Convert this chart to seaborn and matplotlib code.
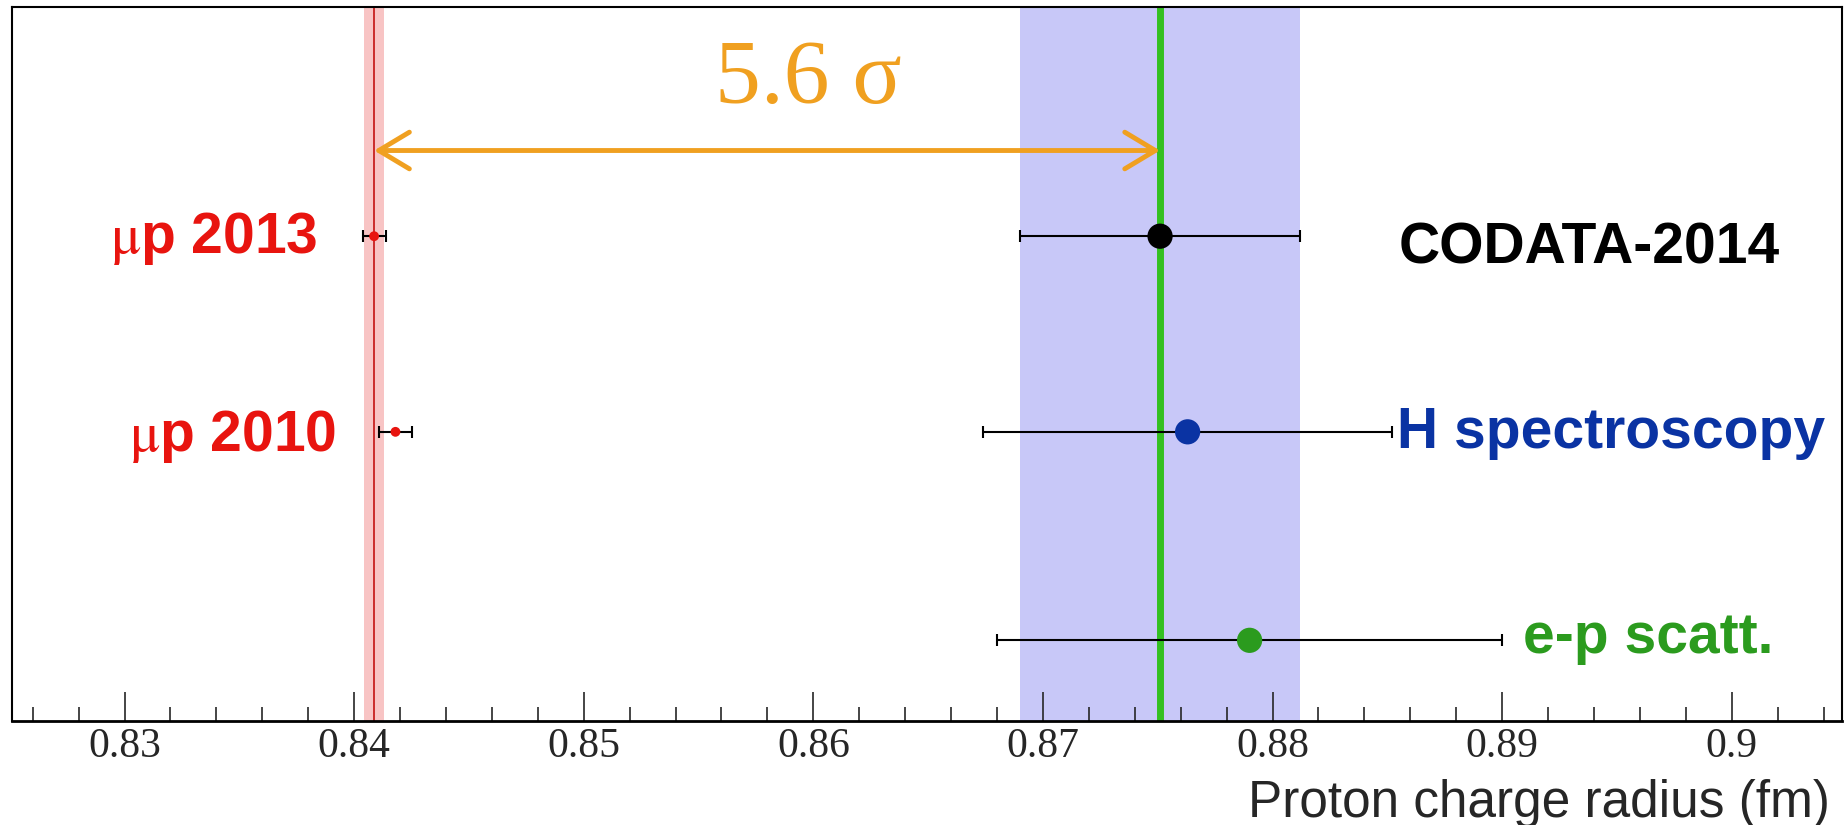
import numpy as np
import pandas as pd
import seaborn as sns
import matplotlib
matplotlib.use('Agg')
import matplotlib.pyplot as plt
from matplotlib.ticker import MultipleLocator

# measurements (fm)
labels = ['μp 2013', 'μp 2010', 'CODATA-2014', 'H spectroscopy', 'e-p scatt.']
radius = [0.84087, 0.8418, 0.8751, 0.8763, 0.8790]
radius_err = [0.0005, 0.0007, 0.0061, 0.0089, 0.0110]
row = [2, 1, 2, 1, 0]
colors = ['#e8140f', '#e8140f', '#000000', '#0a33a3', '#2b9b1e']

muon_radius = 0.84087
muon_band = 0.00045
codata_radius = 0.8751
codata_band = 0.0061
sigma_label = '5.6 σ'

x_ticks = [0.83, 0.84, 0.85, 0.86, 0.87, 0.88, 0.89, 0.9]
x_tick_labels = ['0.83', '0.84', '0.85', '0.86', '0.87', '0.88', '0.89', '0.9']
x_label = 'Proton charge radius (fm)'

# layout
row_y = {0: 0.113, 1: 0.405, 2: 0.679}
label_x = {'μp 2013': 0.8384, 'μp 2010': 0.8392, 'CODATA-2014': 0.8855,
           'H spectroscopy': 0.8854, 'e-p scatt.': 0.8909}
label_base = {'μp 2013': 0.656, 'μp 2010': 0.378, 'CODATA-2014': 0.641,
              'H spectroscopy': 0.383, 'e-p scatt.': 0.095}
marker_size = [50, 50, 330, 330, 330]

df = pd.DataFrame({'label': labels, 'radius': radius, 'err': radius_err,
                   'y': [row_y[r] for r in row], 'size': marker_size})

sns.set_style('white')
plt.rcParams['font.family'] = ['Liberation Sans', 'DejaVu Sans']
plt.rcParams['mathtext.fontset'] = 'stix'

fig = plt.figure(figsize=(18.46, 8.25), dpi=100)
ax = fig.add_axes([12 / 1846, 1 - 721 / 825, (1842 - 12) / 1846, (721 - 7) / 825])

# bands
ax.axvspan(codata_radius - codata_band, codata_radius + codata_band, color='#c8c8f8', lw=0, zorder=0)
ax.axvline(codata_radius, color='#33c020', lw=5, zorder=1)
ax.axvspan(muon_radius - muon_band, muon_radius + muon_band, color='#f8c4c4', lw=0, zorder=0)
ax.axvline(muon_radius, color='#c82020', lw=1.3, zorder=1)

# error bars + points
ax.errorbar(df['radius'], df['y'], xerr=df['err'], fmt='none', ecolor='black',
            elinewidth=1.5, capsize=4, capthick=1.5, zorder=2)
sns.scatterplot(data=df, x='radius', y='y', hue='label', palette=dict(zip(labels, colors)),
                size='label', sizes=dict(zip(labels, marker_size)), legend=False,
                edgecolor='none', ax=ax, zorder=3)

# labels
for lab, c in zip(labels, colors):
    if lab.startswith('μp'):
        txt = r'$\mathrm{\mu}$' + lab[1:]
        ax.text(label_x[lab], label_base[lab], txt, color=c, fontsize=41, fontweight='bold',
                ha='right', va='baseline')
    else:
        ax.text(label_x[lab], label_base[lab], lab, color=c, fontsize=41, fontweight='bold',
                ha='left', va='baseline')

# sigma arrow
ax.annotate('', xy=(codata_radius, 0.799), xytext=(muon_radius, 0.799),
            arrowprops=dict(arrowstyle='<->,head_length=1.0,head_width=0.6',
                            color='#f0a020', lw=3.5, mutation_scale=22,
                            shrinkA=0, shrinkB=0), zorder=4)
ax.text(0.8598, 0.866, sigma_label, color='#f0a020', fontsize=66,
        family='Liberation Serif', ha='center', va='baseline')

ax.set_xlim(0.8251, 0.9048)
ax.set_ylim(0, 1)
ax.set_yticks([])
ax.set_xticks(x_ticks)
ax.set_xticklabels(x_tick_labels, family='Liberation Serif', fontsize=30)
ax.xaxis.set_minor_locator(MultipleLocator(0.002))
ax.tick_params(axis='x', which='major', direction='in', length=21, width=1.2,
               pad=5, bottom=True, top=False)
ax.tick_params(axis='x', which='minor', direction='in', length=10, width=1.2,
               bottom=True, top=False)
ax.set_xlabel('')
ax.set_ylabel('')
for s in ax.spines.values():
    s.set_color('black')
    s.set_linewidth(1.5)
ax.spines['bottom'].set_linewidth(2)

fig.text(1830 / 1846, 1 - 804 / 825, x_label, fontsize=37, ha='right', va='center')

fig.savefig('out.png', dpi=100)
